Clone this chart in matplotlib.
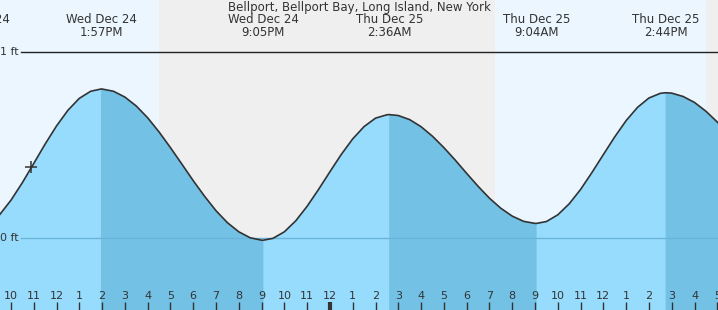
import matplotlib
matplotlib.use("Agg")
import matplotlib.pyplot as plt
import matplotlib.transforms as mtransforms
import numpy as np

plt.rcParams['font.family'] = ['DejaVu Sans']

# ---- data (hours since Wed Dec 24 00:00) ----
title = "Bellport, Bellport Bay, Long Island, New York"

times = [9.0, 9.5, 10, 10.5, 11, 11.5, 12, 12.5, 13, 13.5, 13.95,
         14, 14.5, 15, 15.5, 16, 16.5, 17, 17.5, 18, 18.5, 19, 19.5, 20, 20.5, 21, 21.08,
         21.5, 22, 22.5, 23, 23.5, 24, 24.5, 25, 25.5, 26, 26.5, 26.6,
         27, 27.5, 28, 28.5, 29, 29.5, 30, 30.5, 31, 31.5, 32, 32.5, 33, 33.07,
         33.5, 34, 34.5, 35, 35.5, 36, 36.5, 37, 37.5, 38, 38.5, 38.73,
         39, 39.5, 40, 40.5, 41, 41.5]
heights = [0.069, 0.126, 0.204, 0.298, 0.401, 0.505, 0.602, 0.686, 0.750, 0.788, 0.800,
           0.800, 0.788, 0.757, 0.709, 0.646, 0.570, 0.486, 0.398, 0.309, 0.225, 0.148, 0.084, 0.035, 0.003, -0.010, -0.010,
           0.000, 0.035, 0.094, 0.172, 0.262, 0.357, 0.450, 0.533, 0.599, 0.644, 0.662, 0.663,
           0.658, 0.636, 0.598, 0.547, 0.486, 0.419, 0.348, 0.279, 0.215, 0.161, 0.119, 0.091, 0.080, 0.080,
           0.090, 0.126, 0.185, 0.262, 0.353, 0.449, 0.544, 0.631, 0.702, 0.752, 0.777, 0.780,
           0.778, 0.760, 0.728, 0.681, 0.623, 0.557]

ext_t = [8.42, 13.95, 21.08, 26.6, 33.07, 38.73]
ext_kind = ['L', 'H', 'L', 'H', 'L', 'H']
ext_date = ['Wed Dec 24', 'Wed Dec 24', 'Wed Dec 24', 'Thu Dec 25', 'Thu Dec 25', 'Thu Dec 25']
ext_clock = ['8:25AM', '1:57PM', '9:05PM', '2:36AM', '9:04AM', '2:44PM']

sun_t = [16.48, 31.23, 40.50]          # sunset, sunrise, sunset
now_t, now_h = 10.88, 0.38            # current-time marker

tick_hours = list(range(10, 42))
tick_labels = [str((h - 1) % 12 + 1) for h in tick_hours]

# ---- style ----
DAY = '#ebf6ff'
NIGHT = '#efefef'
RISE = '#97dcfd'
FALL = '#73c2e6'
INK = '#333333'

XMIN, XMAX = 9.52, 41.03
YMIN, YMAX = -0.384, 1.277

fig = plt.figure(figsize=(7.18, 3.10), dpi=100)
ax = fig.add_axes([0, 0, 1, 1])
ax.set_xlim(XMIN, XMAX)
ax.set_ylim(YMIN, YMAX)
for s in ax.spines.values():
    s.set_visible(False)
ax.set_yticks([])

# day / night background
edges = [XMIN] + sun_t + [XMAX]
for i in range(len(edges) - 1):
    ax.axvspan(edges[i], edges[i + 1], color=DAY if i % 2 == 0 else NIGHT, lw=0, zorder=0)

t = np.array(times)
h = np.array(heights)

# tide fill: rising light, falling dark
ax.fill_between(t, h, YMIN - 1, color=RISE, lw=0, zorder=1)
for i, k in enumerate(ext_kind):
    if k == 'H':
        end = ext_t[i + 1] if i + 1 < len(ext_t) else t[-1]
        m = (t >= ext_t[i]) & (t <= end)
        ax.fill_between(t, h, YMIN - 1, where=m, color=FALL, lw=0, zorder=1)

# reference lines
x0 = 21 / 718
ax.axhline(1, xmin=x0, xmax=1, color='#222222', lw=1, zorder=2)
ax.axhline(0, xmin=x0, xmax=1, color='#6ab4da', lw=1, zorder=2)
ax.text(19 / 718, 1, '1 ft', transform=mtransforms.blended_transform_factory(ax.transAxes, ax.transData),
        ha='right', va='center', fontsize=8, color=INK)
ax.text(19 / 718, 0, '0 ft', transform=mtransforms.blended_transform_factory(ax.transAxes, ax.transData),
        ha='right', va='center', fontsize=8, color=INK)

# tide curve
ax.plot(t, h, color=INK, lw=1.2, zorder=3, solid_joinstyle='round')
ax.plot([now_t], [now_h], marker='+', ms=9, mew=1.1, color=INK, zorder=4)

# extreme labels
bt = mtransforms.blended_transform_factory(ax.transData, ax.transAxes)
for tt, d, c in zip(ext_t, ext_date, ext_clock):
    ax.text(tt, 1 - 19.5 / 310, d, transform=bt, ha='center', va='center', fontsize=8.5, color=INK, zorder=5)
    ax.text(tt, 1 - 32 / 310, c, transform=bt, ha='center', va='center', fontsize=8.5, color=INK, zorder=5)

ax.text(0.5, 1 - 7 / 310, title, transform=ax.transAxes, ha='center', va='center',
        fontsize=8.5, color=INK, zorder=5)

# hour ticks
ax.set_xticks(tick_hours)
ax.set_xticklabels(tick_labels)
ax.tick_params(axis='x', direction='in', length=5.8, width=1, color=INK,
               pad=-13.5, labelsize=8, labelcolor=INK)
for tk, hr in zip(ax.xaxis.get_major_ticks(), tick_hours):
    tk.tick1line.set_zorder(6)
    if hr % 24 == 0:
        tk.tick1line.set_markeredgewidth(3)
for lbl in ax.get_xticklabels():
    lbl.set_zorder(6)

fig.savefig('out.png', dpi=100)
